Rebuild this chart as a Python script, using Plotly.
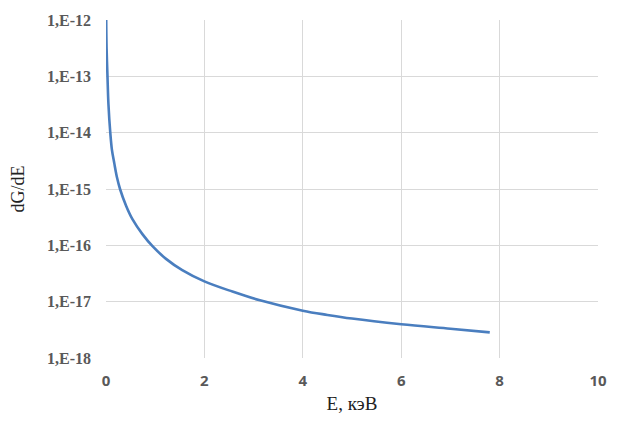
import plotly.graph_objects as go

energy_kev = [0.004, 0.012, 0.03, 0.05, 0.087, 0.12, 0.17, 0.225, 0.285, 0.41, 0.54, 0.74, 0.95,
              1.22, 1.55, 2.0, 2.57, 3.11, 4.0, 4.5, 5.0, 6.0, 7.0, 7.8]
dg_de = [1.0e-12, 3.16e-13, 1.0e-13, 3.16e-14, 1.0e-14, 5.01e-15, 2.82e-15, 1.58e-15, 1.0e-15,
         5.0e-16, 2.88e-16, 1.58e-16, 9.55e-17, 5.75e-17, 3.63e-17, 2.29e-17, 1.51e-17, 1.07e-17,
         6.92e-18, 5.82e-18, 5.01e-18, 3.98e-18, 3.31e-18, 2.85e-18]

x_ticks = [0, 2, 4, 6, 8, 10]
y_tickvals = [1e-18, 1e-17, 1e-16, 1e-15, 1e-14, 1e-13, 1e-12]
y_ticktext = ["1,E-18", "1,E-17", "1,E-16", "1,E-15", "1,E-14", "1,E-13", "1,E-12"]

fig = go.Figure()
fig.add_trace(go.Scatter(x=energy_kev, y=dg_de, mode="lines",
                         line=dict(color="#4a7ebf", width=2.6, shape="spline", smoothing=1.0)))

fig.update_layout(
    width=619, height=425,
    margin=dict(l=106, r=21, t=14, b=67),
    paper_bgcolor="white", plot_bgcolor="white",
    showlegend=False,
    xaxis=dict(range=[0, 10], tickvals=x_ticks, showgrid=True, gridcolor="#d9d9d9", gridwidth=1,
               zeroline=False, showline=False, ticks="", ticklabelstandoff=12,
               tickfont=dict(family="Open Sans", size=15, color="#595959", weight="bold"),
               title=dict(text="E, кэВ", font=dict(family="Liberation Serif", size=19, color="#222"),
                          standoff=7)),
    yaxis=dict(type="log", range=[-18, -12], tickvals=y_tickvals, ticktext=y_ticktext,
               showgrid=True, gridcolor="#d9d9d9", gridwidth=1, zeroline=False, showline=False,
               ticks="", ticklabelstandoff=14,
               tickfont=dict(family="Liberation Serif", size=16, color="#595959", weight="bold"),
               title=dict(text="dG/dE", font=dict(family="Liberation Serif", size=18, color="#222"),
                          standoff=17)),
)

fig.write_html("out.html")
